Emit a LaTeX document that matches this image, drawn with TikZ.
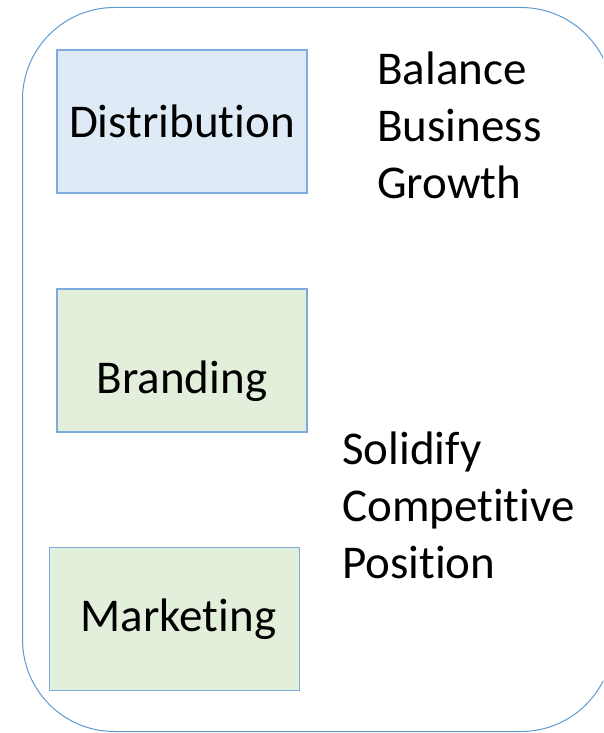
\documentclass[tikz,border=0pt]{standalone}
\usepackage{fontspec}
\setmainfont{Carlito}[Ligatures=NoCommon]
\usepackage{xcolor}
\definecolor{frameblue}{RGB}{91,155,213}
\definecolor{boxline}{RGB}{126,172,222}
\definecolor{distfill}{RGB}{222,234,246}
\definecolor{greenfill}{RGB}{226,239,218}
\usepackage{tikz}
\usetikzlibrary{positioning}

\begin{document}
\begin{tikzpicture}[x=1pt,y=-1pt,
  font=\fontsize{47}{56.7}\selectfont,
  stagebox/.style={draw=boxline,line width=1.3pt,minimum width=250pt,minimum height=143pt,inner sep=0pt},
  goaltext/.style={align=left,anchor=base west,inner sep=0pt}]

  % Page and outer frame
  \useasboundingbox (0,0) rectangle (603,733);
  \clip (0,0) rectangle (603,733);
  \draw[frameblue,line width=1pt,rounded corners=92pt] (22.5,7.5) rectangle (613,731.5);

  % Stage boxes on the left
  \node[stagebox,fill=distfill] (dist) at (182,121.5) {Distribution\hspace{6pt}};
  \node[stagebox,fill=greenfill] (brand) at (182,360.5) {};
  \node[inner sep=0pt,anchor=base] (brandtext) at (182,393) {Branding};
  \node[stagebox,fill=greenfill] (mark) at (174.5,619) {\hspace{8pt}Marketing};

  % Goals on the right (base = last line)
  \node[goaltext] (balance) at (377,198) {Balance\\Business\\Growth};
  \node[goaltext] (solidify) at (342,578) {Solidify\\Competitive\\Position};

\end{tikzpicture}
\end{document}
